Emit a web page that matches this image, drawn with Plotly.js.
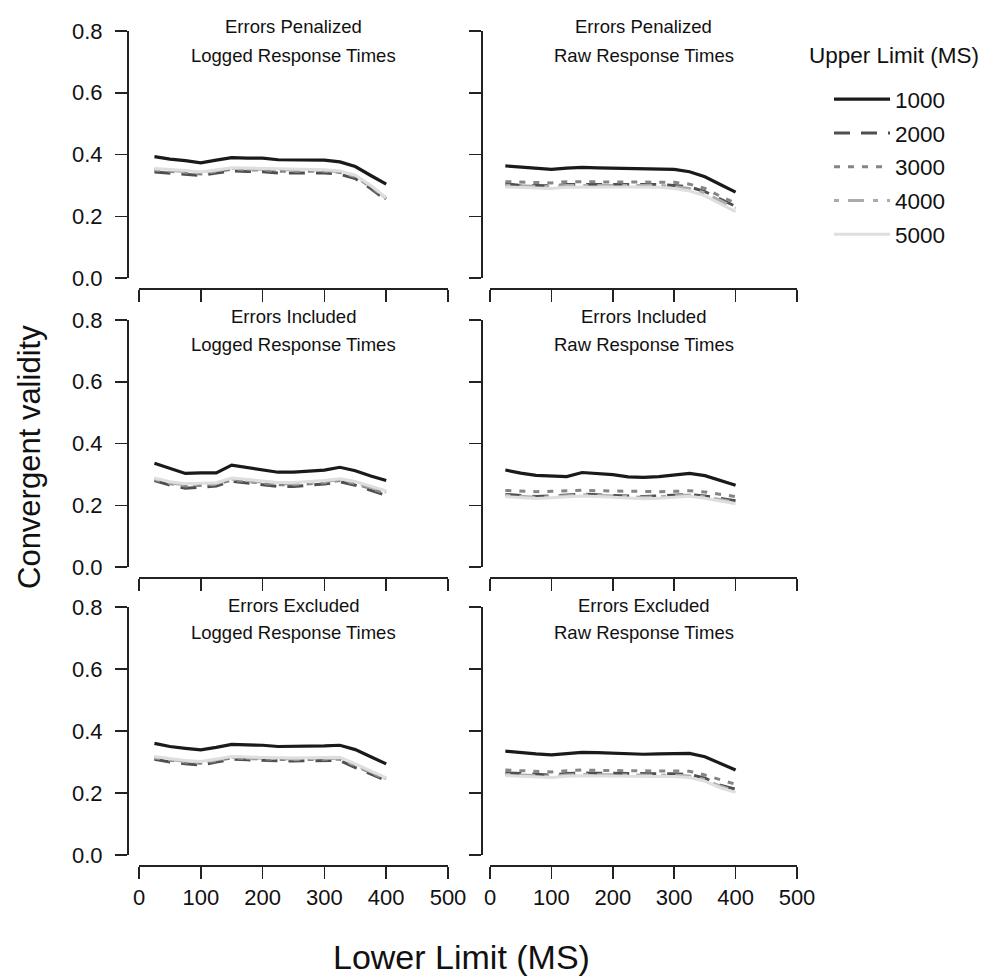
<!DOCTYPE html>
<html><head><meta charset="utf-8">
<script src="https://cdn.plot.ly/plotly-3.0.1.min.js"></script>
<style>html,body{margin:0;padding:0;background:#fff}#chart{width:981px;height:978px}</style>
</head><body><div id="chart"></div>
<script>
// ---------- data ----------
const lowerLimit = [25, 50, 75, 100, 125, 150, 175, 200, 225, 250, 275, 300, 325, 350, 375, 400];
const upperLimits = ['1000', '2000', '3000', '4000', '5000'];
const xTicks = [0, 100, 200, 300, 400, 500];
const yTicks = [0, 0.2, 0.4, 0.6, 0.8];

// Errors Penalized, Logged RT
const penLog1000 = [0.393, 0.385, 0.380, 0.373, 0.382, 0.390, 0.388, 0.388, 0.383, 0.383, 0.382, 0.382, 0.376, 0.361, 0.332, 0.304];
const penLog2000 = [0.343, 0.340, 0.336, 0.332, 0.340, 0.347, 0.345, 0.344, 0.340, 0.340, 0.340, 0.340, 0.336, 0.322, 0.290, 0.252];
const penLog3000 = [0.350, 0.346, 0.342, 0.337, 0.345, 0.352, 0.350, 0.350, 0.346, 0.346, 0.346, 0.346, 0.342, 0.328, 0.295, 0.256];
const penLog4000 = [0.352, 0.349, 0.345, 0.340, 0.348, 0.355, 0.353, 0.352, 0.349, 0.349, 0.349, 0.348, 0.344, 0.330, 0.298, 0.258];
const penLog5000 = [0.355, 0.352, 0.348, 0.343, 0.350, 0.357, 0.356, 0.355, 0.352, 0.352, 0.352, 0.351, 0.347, 0.333, 0.300, 0.260];

// Errors Penalized, Raw RT
const penRaw1000 = [0.363, 0.360, 0.357, 0.352, 0.356, 0.358, 0.357, 0.356, 0.355, 0.355, 0.354, 0.352, 0.344, 0.328, 0.303, 0.278];
const penRaw2000 = [0.305, 0.300, 0.300, 0.298, 0.303, 0.303, 0.303, 0.303, 0.303, 0.303, 0.303, 0.300, 0.295, 0.280, 0.255, 0.232];
const penRaw3000 = [0.312, 0.310, 0.310, 0.308, 0.312, 0.312, 0.312, 0.312, 0.312, 0.312, 0.312, 0.310, 0.304, 0.290, 0.265, 0.242];
const penRaw4000 = [0.300, 0.298, 0.298, 0.296, 0.300, 0.300, 0.300, 0.300, 0.300, 0.300, 0.300, 0.296, 0.290, 0.275, 0.250, 0.226];
const penRaw5000 = [0.295, 0.293, 0.292, 0.290, 0.294, 0.295, 0.295, 0.295, 0.295, 0.295, 0.294, 0.290, 0.282, 0.266, 0.240, 0.215];

// Errors Included, Logged RT
const incLog1000 = [0.336, 0.320, 0.303, 0.305, 0.305, 0.330, 0.322, 0.316, 0.307, 0.307, 0.311, 0.314, 0.323, 0.312, 0.295, 0.280];
const incLog2000 = [0.280, 0.265, 0.255, 0.258, 0.262, 0.278, 0.273, 0.268, 0.261, 0.261, 0.265, 0.269, 0.276, 0.265, 0.248, 0.232];
const incLog3000 = [0.283, 0.270, 0.262, 0.264, 0.267, 0.282, 0.277, 0.272, 0.266, 0.266, 0.270, 0.273, 0.280, 0.270, 0.254, 0.238];
const incLog4000 = [0.286, 0.273, 0.266, 0.268, 0.270, 0.285, 0.280, 0.276, 0.270, 0.270, 0.273, 0.277, 0.283, 0.274, 0.258, 0.242];
const incLog5000 = [0.288, 0.276, 0.270, 0.271, 0.273, 0.288, 0.283, 0.279, 0.274, 0.274, 0.277, 0.280, 0.286, 0.277, 0.262, 0.246];

// Errors Included, Raw RT
const incRaw1000 = [0.314, 0.304, 0.297, 0.295, 0.293, 0.306, 0.302, 0.299, 0.292, 0.290, 0.293, 0.297, 0.303, 0.296, 0.280, 0.265];
const incRaw2000 = [0.235, 0.232, 0.228, 0.230, 0.232, 0.236, 0.234, 0.232, 0.230, 0.228, 0.230, 0.232, 0.235, 0.230, 0.222, 0.215];
const incRaw3000 = [0.248, 0.246, 0.244, 0.245, 0.246, 0.249, 0.247, 0.246, 0.244, 0.243, 0.244, 0.245, 0.247, 0.243, 0.236, 0.228];
const incRaw4000 = [0.232, 0.230, 0.226, 0.228, 0.230, 0.234, 0.232, 0.230, 0.227, 0.226, 0.228, 0.230, 0.233, 0.227, 0.218, 0.210];
const incRaw5000 = [0.228, 0.226, 0.222, 0.224, 0.226, 0.230, 0.228, 0.226, 0.222, 0.221, 0.223, 0.226, 0.229, 0.223, 0.213, 0.205];

// Errors Excluded, Logged RT
const excLog1000 = [0.360, 0.350, 0.344, 0.339, 0.347, 0.357, 0.355, 0.354, 0.350, 0.350, 0.351, 0.352, 0.354, 0.340, 0.317, 0.294];
const excLog2000 = [0.309, 0.300, 0.294, 0.290, 0.300, 0.309, 0.307, 0.306, 0.303, 0.303, 0.304, 0.305, 0.305, 0.282, 0.260, 0.240];
const excLog3000 = [0.313, 0.305, 0.299, 0.296, 0.305, 0.313, 0.311, 0.310, 0.307, 0.307, 0.308, 0.309, 0.309, 0.288, 0.265, 0.243];
const excLog4000 = [0.315, 0.308, 0.302, 0.299, 0.307, 0.315, 0.313, 0.312, 0.310, 0.310, 0.311, 0.312, 0.312, 0.291, 0.268, 0.246];
const excLog5000 = [0.318, 0.311, 0.305, 0.302, 0.310, 0.318, 0.316, 0.315, 0.313, 0.313, 0.314, 0.315, 0.315, 0.294, 0.271, 0.249];

// Errors Excluded, Raw RT
const excRaw1000 = [0.335, 0.330, 0.326, 0.323, 0.328, 0.331, 0.330, 0.328, 0.325, 0.325, 0.326, 0.327, 0.328, 0.317, 0.296, 0.274];
const excRaw2000 = [0.265, 0.262, 0.260, 0.258, 0.263, 0.265, 0.264, 0.263, 0.262, 0.262, 0.262, 0.262, 0.260, 0.248, 0.225, 0.212];
const excRaw3000 = [0.274, 0.272, 0.270, 0.268, 0.272, 0.274, 0.273, 0.272, 0.271, 0.271, 0.271, 0.271, 0.270, 0.258, 0.242, 0.228];
const excRaw4000 = [0.260, 0.258, 0.256, 0.254, 0.258, 0.260, 0.259, 0.258, 0.257, 0.257, 0.257, 0.257, 0.255, 0.243, 0.222, 0.206];
const excRaw5000 = [0.256, 0.254, 0.252, 0.250, 0.254, 0.256, 0.255, 0.254, 0.253, 0.253, 0.253, 0.253, 0.250, 0.238, 0.217, 0.202];

const panelTitles = [
  ['Errors Penalized', 'Logged Response Times'],
  ['Errors Penalized', 'Raw Response Times'],
  ['Errors Included', 'Logged Response Times'],
  ['Errors Included', 'Raw Response Times'],
  ['Errors Excluded', 'Logged Response Times'],
  ['Errors Excluded', 'Raw Response Times']
];
const panelSeries = [
  [penLog1000, penLog2000, penLog3000, penLog4000, penLog5000],
  [penRaw1000, penRaw2000, penRaw3000, penRaw4000, penRaw5000],
  [incLog1000, incLog2000, incLog3000, incLog4000, incLog5000],
  [incRaw1000, incRaw2000, incRaw3000, incRaw4000, incRaw5000],
  [excLog1000, excLog2000, excLog3000, excLog4000, excLog5000],
  [excRaw1000, excRaw2000, excRaw3000, excRaw4000, excRaw5000]
];

// ---------- styles ----------
const lineStyles = [
  {color: '#1a1a1a', width: 3.2, dash: 'solid'},
  {color: '#4f4f4f', width: 3, dash: '16px,11px'},
  {color: '#858585', width: 3, dash: '6px,8px'},
  {color: '#ababab', width: 3, dash: '5px,9px,16px,9px'},
  {color: '#dedede', width: 3, dash: 'solid'}
];
const FONT = 'Liberation Sans, Arial, Helvetica, sans-serif';
const W = 981, H = 978;
const px = v => v / W;
const py = v => 1 - v / H;

const colDom = [[px(139), px(448)], [px(490), px(797)]];
const colYaxisPos = [px(127), px(481)];
const rowDom = [[py(278), py(31)], [py(567), py(320)], [py(855), py(607)]];
const rowXaxisPos = [py(288), py(577), py(865)];
const rowTitleY = [[27, 55], [316, 344], [605, 632]];

const traces = [];
const layout = {
  width: W, height: H,
  margin: {l: 0, r: 0, t: 0, b: 0},
  paper_bgcolor: '#fff', plot_bgcolor: 'rgba(0,0,0,0)',
  font: {family: FONT, color: '#111', size: 22},
  showlegend: true,
  legend: {
    x: px(829), y: py(78), xanchor: 'left', yanchor: 'top',
    bgcolor: 'rgba(0,0,0,0)', borderwidth: 0,
    font: {family: FONT, size: 22.5, color: '#111'},
    itemwidth: 56, tracegroupgap: 1.5
  },
  annotations: [],
  hovermode: false
};

for (let p = 0; p < 6; p++) {
  const row = Math.floor(p / 2), col = p % 2;
  const ax = p + 1;
  const xName = ax === 1 ? 'xaxis' : 'xaxis' + ax;
  const yName = ax === 1 ? 'yaxis' : 'yaxis' + ax;
  layout[xName] = {
    domain: colDom[col], range: [0, 500], anchor: 'free', position: rowXaxisPos[row],
    tickmode: 'array', tickvals: xTicks, ticktext: xTicks.map(String),
    showticklabels: row === 2, ticks: 'outside', ticklen: 12, tickwidth: 1.5, tickcolor: '#222',
    showline: true, linecolor: '#222', linewidth: 1.5, showgrid: false, zeroline: false,
    tickfont: {family: FONT, size: 22, color: '#111'}, fixedrange: true
  };
  layout[yName] = {
    domain: rowDom[row], range: [0, 0.8], anchor: 'free', position: colYaxisPos[col],
    tickmode: 'array', tickvals: yTicks, ticktext: yTicks.map(v => v.toFixed(1)),
    showticklabels: col === 0, ticks: 'outside', ticklen: 12, tickwidth: 1.5, tickcolor: '#222',
    showline: true, linecolor: '#222', linewidth: 1.5, showgrid: false, zeroline: false,
    tickfont: {family: FONT, size: 22, color: '#111'}, ticklabelstandoff: 8, fixedrange: true
  };
  const xref = ax === 1 ? 'x' : 'x' + ax;
  const yref = ax === 1 ? 'y' : 'y' + ax;
  panelSeries[p].forEach((vals, s) => {
    traces.push({
      type: 'scatter', mode: 'lines', x: lowerLimit, y: vals,
      xaxis: xref, yaxis: yref,
      name: upperLimits[s], legendgroup: upperLimits[s], showlegend: p === 0,
      line: Object.assign({}, lineStyles[s]), hoverinfo: 'skip'
    });
  });
  const cx = (colDom[col][0] + colDom[col][1]) / 2;
  panelTitles[p].forEach((t, i) => {
    layout.annotations.push({
      text: t, xref: 'paper', yref: 'paper', x: cx, y: py(rowTitleY[row][i]),
      xanchor: 'center', yanchor: 'middle', showarrow: false,
      font: {family: FONT, size: 18.5, color: '#111'}
    });
  });
}

layout.annotations.push({
  text: 'Upper Limit (MS)', xref: 'paper', yref: 'paper', x: px(807), y: py(55),
  xanchor: 'left', yanchor: 'middle', showarrow: false,
  font: {family: FONT, size: 22.5, color: '#111'}
});
layout.annotations.push({
  text: 'Convergent validity', xref: 'paper', yref: 'paper', x: px(29), y: py(457),
  xanchor: 'center', yanchor: 'middle', textangle: -90, showarrow: false,
  font: {family: FONT, size: 31, color: '#111'}
});
layout.annotations.push({
  text: 'Lower Limit (MS)', xref: 'paper', yref: 'paper', x: px(461), y: py(957),
  xanchor: 'center', yanchor: 'middle', showarrow: false,
  font: {family: FONT, size: 34, color: '#111'}
});

Plotly.newPlot('chart', traces, layout, {displayModeBar: false, staticPlot: true});
</script></body></html>
